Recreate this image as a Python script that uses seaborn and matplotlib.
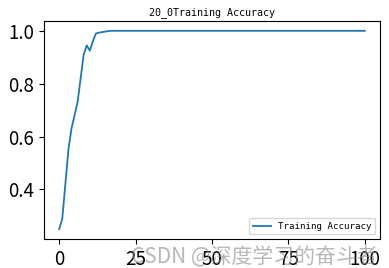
import matplotlib
matplotlib.use("Agg")
import matplotlib.pyplot as plt
import seaborn as sns
import pandas as pd

epochs = list(range(101))
accuracy = [0.25, 0.29, 0.42, 0.55, 0.63, 0.68, 0.73, 0.82, 0.91, 0.945,
            0.925, 0.96, 0.99, 0.993, 0.995, 0.997, 0.999] + [1.0] * 84
title = "20_0Training Accuracy"
series_label = "Training Accuracy"
watermark = "CSDN @深度学习的奋斗者"

df = pd.DataFrame({"epoch": epochs, "acc": accuracy, "series": series_label})

fig = plt.figure(figsize=(3.89, 2.68), dpi=100)
ax = fig.add_axes([0.113, 0.108, 0.864, 0.814])
sns.lineplot(data=df, x="epoch", y="acc", hue="series", ax=ax,
             palette=["#1f77b4"], linewidth=1.3)
ax.set_xlabel("")
ax.set_ylabel("")
ax.set_xticks([0, 25, 50, 75, 100])
ax.set_yticks([0.4, 0.6, 0.8, 1.0])
ax.tick_params(labelsize=13.5)
for lab in ax.get_xticklabels() + ax.get_yticklabels():
    lab.set_family(["Noto Sans CJK SC", "DejaVu Sans"])
ax.set_title(title, family="DejaVu Sans Mono", fontsize=7.2, pad=4)
leg = ax.legend(loc="lower right", prop={"family": "DejaVu Sans Mono", "size": 6.6})
leg.get_frame().set_edgecolor("#cccccc")
fig.text(0.972, 0.04, watermark, ha="right", va="center",
         family=["Noto Sans CJK SC", "DejaVu Sans"], fontsize=15,
         color="#888888", alpha=0.6)
fig.savefig("out.png", dpi=100)
